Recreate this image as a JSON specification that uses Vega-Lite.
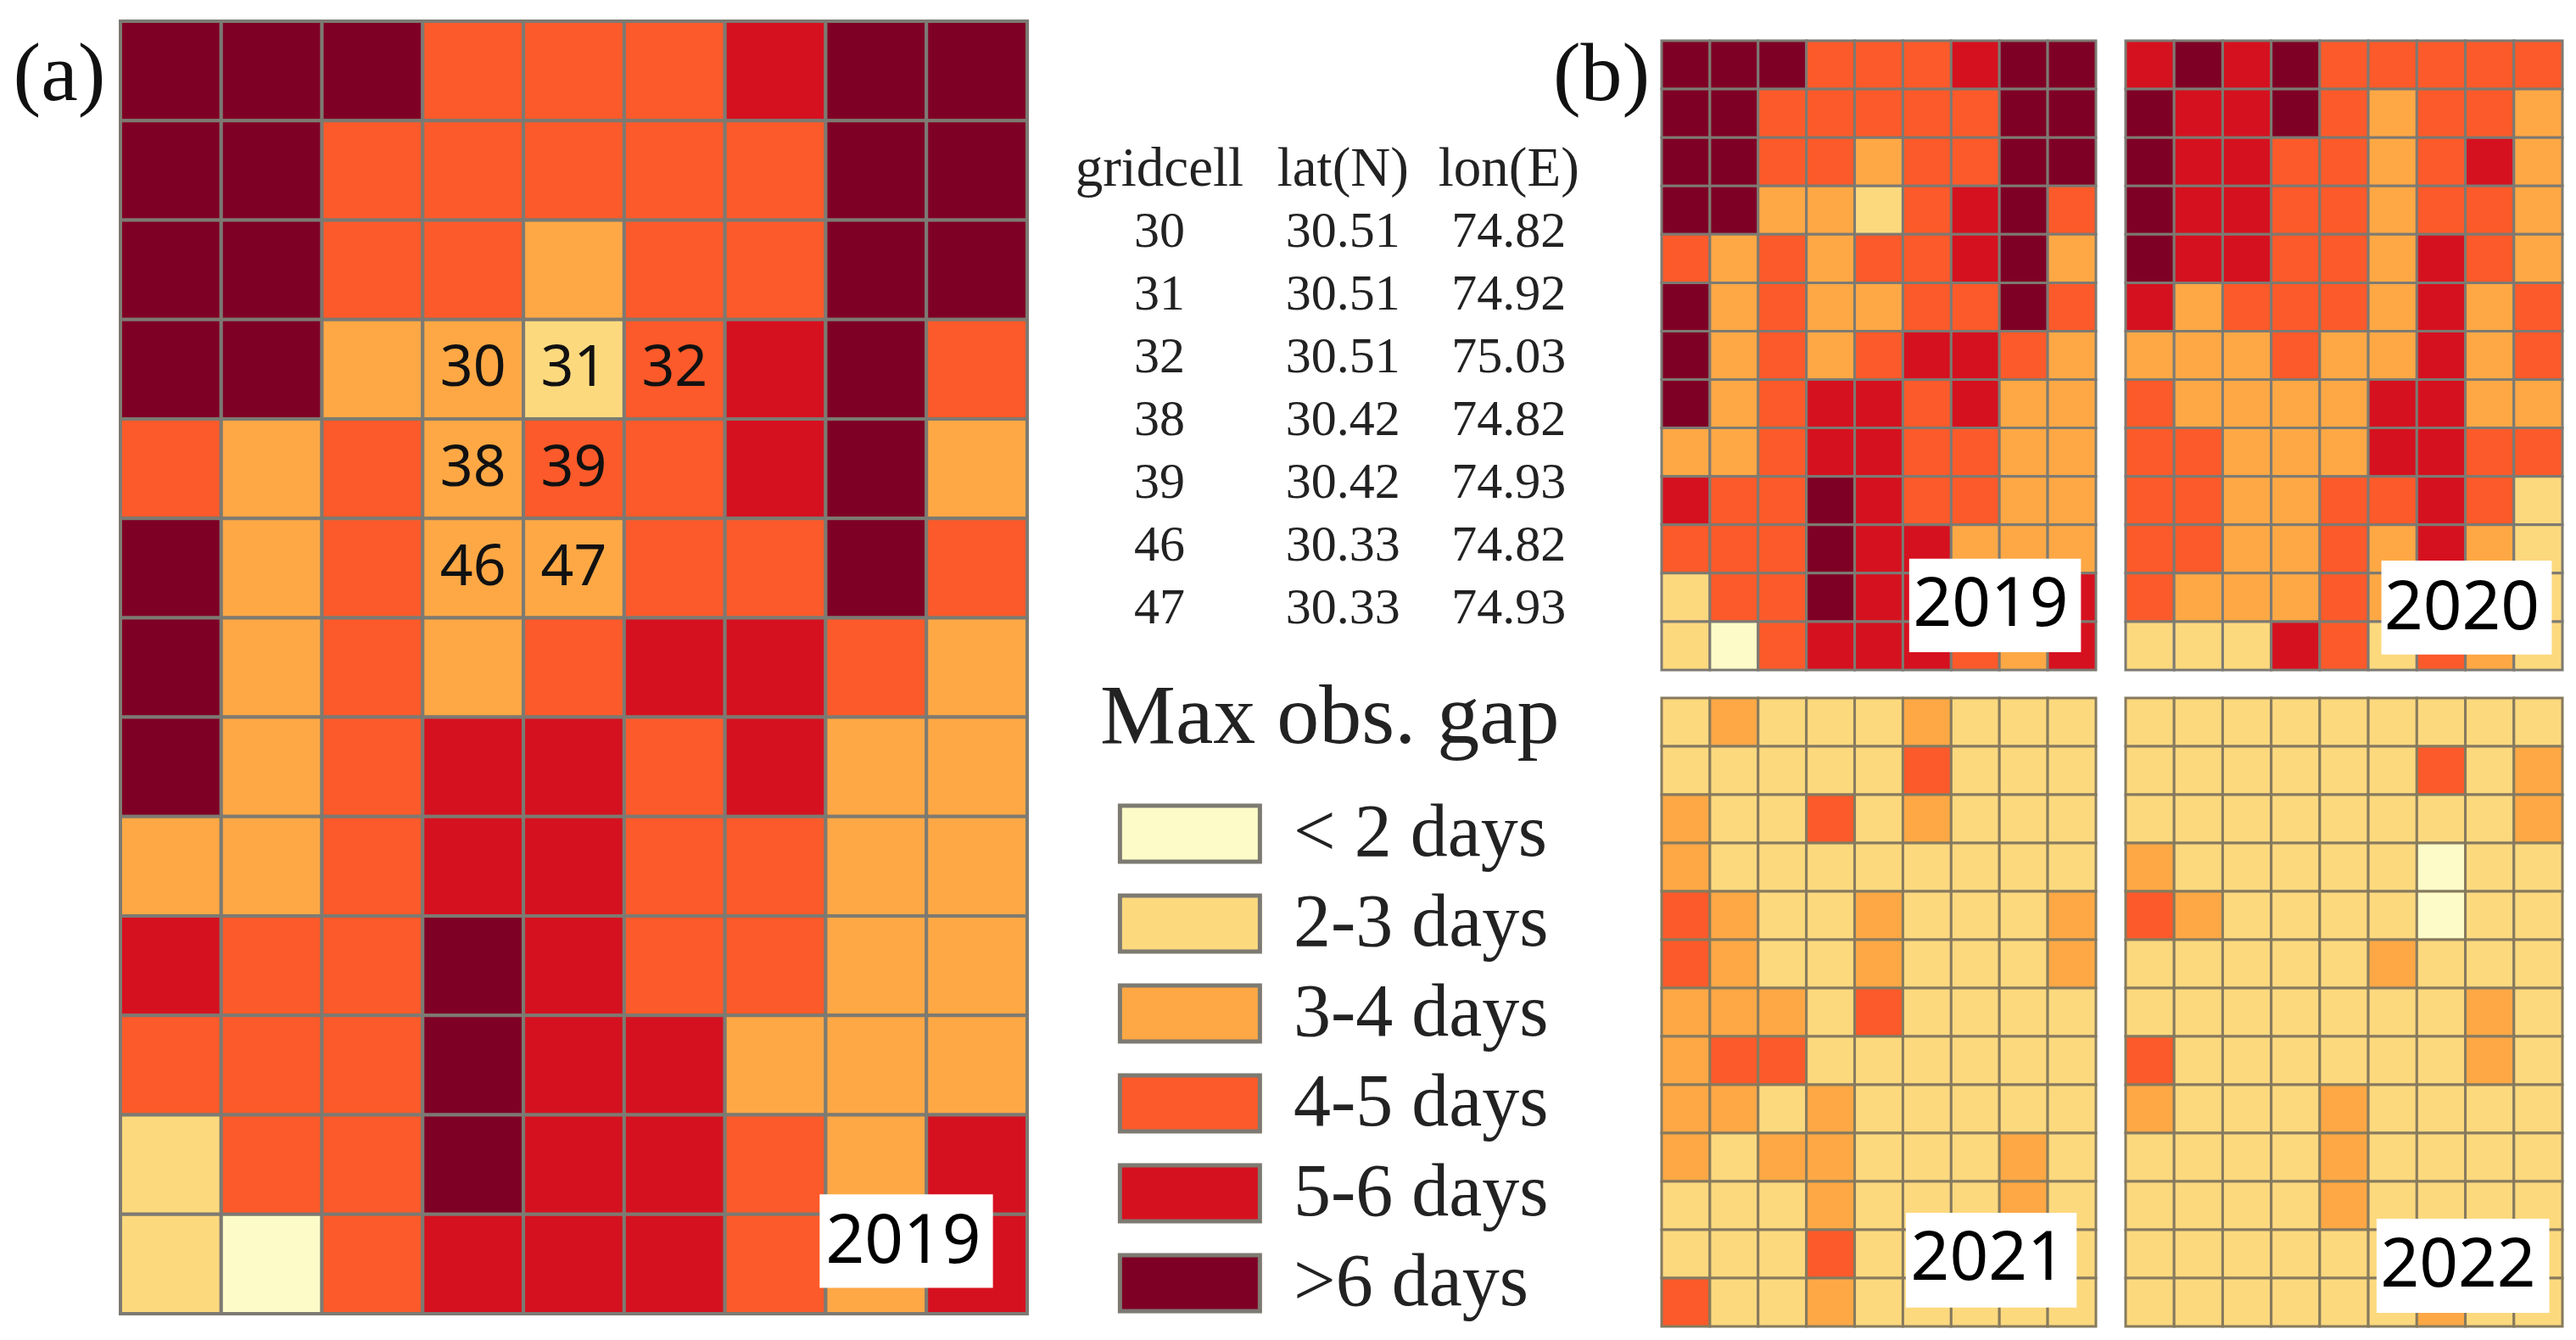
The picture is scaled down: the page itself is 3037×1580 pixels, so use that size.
{"$schema":"https://vega.github.io/schema/vega-lite/v6.json","background":"white","padding":{"left":0,"top":23,"right":10,"bottom":15},"config":{"view":{"stroke":null},"font":"Liberation Serif"},
"datasets":{"cells":[
{"year":2019,"row":0,"col":0,"gap":">6 days"},{"year":2019,"row":0,"col":1,"gap":">6 days"},{"year":2019,"row":0,"col":2,"gap":">6 days"},{"year":2019,"row":0,"col":3,"gap":"4-5 days"},{"year":2019,"row":0,"col":4,"gap":"4-5 days"},{"year":2019,"row":0,"col":5,"gap":"4-5 days"},{"year":2019,"row":0,"col":6,"gap":"5-6 days"},{"year":2019,"row":0,"col":7,"gap":">6 days"},{"year":2019,"row":0,"col":8,"gap":">6 days"},
{"year":2019,"row":1,"col":0,"gap":">6 days"},{"year":2019,"row":1,"col":1,"gap":">6 days"},{"year":2019,"row":1,"col":2,"gap":"4-5 days"},{"year":2019,"row":1,"col":3,"gap":"4-5 days"},{"year":2019,"row":1,"col":4,"gap":"4-5 days"},{"year":2019,"row":1,"col":5,"gap":"4-5 days"},{"year":2019,"row":1,"col":6,"gap":"4-5 days"},{"year":2019,"row":1,"col":7,"gap":">6 days"},{"year":2019,"row":1,"col":8,"gap":">6 days"},
{"year":2019,"row":2,"col":0,"gap":">6 days"},{"year":2019,"row":2,"col":1,"gap":">6 days"},{"year":2019,"row":2,"col":2,"gap":"4-5 days"},{"year":2019,"row":2,"col":3,"gap":"4-5 days"},{"year":2019,"row":2,"col":4,"gap":"3-4 days"},{"year":2019,"row":2,"col":5,"gap":"4-5 days"},{"year":2019,"row":2,"col":6,"gap":"4-5 days"},{"year":2019,"row":2,"col":7,"gap":">6 days"},{"year":2019,"row":2,"col":8,"gap":">6 days"},
{"year":2019,"row":3,"col":0,"gap":">6 days"},{"year":2019,"row":3,"col":1,"gap":">6 days"},{"year":2019,"row":3,"col":2,"gap":"3-4 days"},{"year":2019,"row":3,"col":3,"gap":"3-4 days"},{"year":2019,"row":3,"col":4,"gap":"2-3 days"},{"year":2019,"row":3,"col":5,"gap":"4-5 days"},{"year":2019,"row":3,"col":6,"gap":"5-6 days"},{"year":2019,"row":3,"col":7,"gap":">6 days"},{"year":2019,"row":3,"col":8,"gap":"4-5 days"},
{"year":2019,"row":4,"col":0,"gap":"4-5 days"},{"year":2019,"row":4,"col":1,"gap":"3-4 days"},{"year":2019,"row":4,"col":2,"gap":"4-5 days"},{"year":2019,"row":4,"col":3,"gap":"3-4 days"},{"year":2019,"row":4,"col":4,"gap":"4-5 days"},{"year":2019,"row":4,"col":5,"gap":"4-5 days"},{"year":2019,"row":4,"col":6,"gap":"5-6 days"},{"year":2019,"row":4,"col":7,"gap":">6 days"},{"year":2019,"row":4,"col":8,"gap":"3-4 days"},
{"year":2019,"row":5,"col":0,"gap":">6 days"},{"year":2019,"row":5,"col":1,"gap":"3-4 days"},{"year":2019,"row":5,"col":2,"gap":"4-5 days"},{"year":2019,"row":5,"col":3,"gap":"3-4 days"},{"year":2019,"row":5,"col":4,"gap":"3-4 days"},{"year":2019,"row":5,"col":5,"gap":"4-5 days"},{"year":2019,"row":5,"col":6,"gap":"4-5 days"},{"year":2019,"row":5,"col":7,"gap":">6 days"},{"year":2019,"row":5,"col":8,"gap":"4-5 days"},
{"year":2019,"row":6,"col":0,"gap":">6 days"},{"year":2019,"row":6,"col":1,"gap":"3-4 days"},{"year":2019,"row":6,"col":2,"gap":"4-5 days"},{"year":2019,"row":6,"col":3,"gap":"3-4 days"},{"year":2019,"row":6,"col":4,"gap":"4-5 days"},{"year":2019,"row":6,"col":5,"gap":"5-6 days"},{"year":2019,"row":6,"col":6,"gap":"5-6 days"},{"year":2019,"row":6,"col":7,"gap":"4-5 days"},{"year":2019,"row":6,"col":8,"gap":"3-4 days"},
{"year":2019,"row":7,"col":0,"gap":">6 days"},{"year":2019,"row":7,"col":1,"gap":"3-4 days"},{"year":2019,"row":7,"col":2,"gap":"4-5 days"},{"year":2019,"row":7,"col":3,"gap":"5-6 days"},{"year":2019,"row":7,"col":4,"gap":"5-6 days"},{"year":2019,"row":7,"col":5,"gap":"4-5 days"},{"year":2019,"row":7,"col":6,"gap":"5-6 days"},{"year":2019,"row":7,"col":7,"gap":"3-4 days"},{"year":2019,"row":7,"col":8,"gap":"3-4 days"},
{"year":2019,"row":8,"col":0,"gap":"3-4 days"},{"year":2019,"row":8,"col":1,"gap":"3-4 days"},{"year":2019,"row":8,"col":2,"gap":"4-5 days"},{"year":2019,"row":8,"col":3,"gap":"5-6 days"},{"year":2019,"row":8,"col":4,"gap":"5-6 days"},{"year":2019,"row":8,"col":5,"gap":"4-5 days"},{"year":2019,"row":8,"col":6,"gap":"4-5 days"},{"year":2019,"row":8,"col":7,"gap":"3-4 days"},{"year":2019,"row":8,"col":8,"gap":"3-4 days"},
{"year":2019,"row":9,"col":0,"gap":"5-6 days"},{"year":2019,"row":9,"col":1,"gap":"4-5 days"},{"year":2019,"row":9,"col":2,"gap":"4-5 days"},{"year":2019,"row":9,"col":3,"gap":">6 days"},{"year":2019,"row":9,"col":4,"gap":"5-6 days"},{"year":2019,"row":9,"col":5,"gap":"4-5 days"},{"year":2019,"row":9,"col":6,"gap":"4-5 days"},{"year":2019,"row":9,"col":7,"gap":"3-4 days"},{"year":2019,"row":9,"col":8,"gap":"3-4 days"},
{"year":2019,"row":10,"col":0,"gap":"4-5 days"},{"year":2019,"row":10,"col":1,"gap":"4-5 days"},{"year":2019,"row":10,"col":2,"gap":"4-5 days"},{"year":2019,"row":10,"col":3,"gap":">6 days"},{"year":2019,"row":10,"col":4,"gap":"5-6 days"},{"year":2019,"row":10,"col":5,"gap":"5-6 days"},{"year":2019,"row":10,"col":6,"gap":"3-4 days"},{"year":2019,"row":10,"col":7,"gap":"3-4 days"},{"year":2019,"row":10,"col":8,"gap":"3-4 days"},
{"year":2019,"row":11,"col":0,"gap":"2-3 days"},{"year":2019,"row":11,"col":1,"gap":"4-5 days"},{"year":2019,"row":11,"col":2,"gap":"4-5 days"},{"year":2019,"row":11,"col":3,"gap":">6 days"},{"year":2019,"row":11,"col":4,"gap":"5-6 days"},{"year":2019,"row":11,"col":5,"gap":"5-6 days"},{"year":2019,"row":11,"col":6,"gap":"4-5 days"},{"year":2019,"row":11,"col":7,"gap":"3-4 days"},{"year":2019,"row":11,"col":8,"gap":"5-6 days"},
{"year":2019,"row":12,"col":0,"gap":"2-3 days"},{"year":2019,"row":12,"col":1,"gap":"< 2 days"},{"year":2019,"row":12,"col":2,"gap":"4-5 days"},{"year":2019,"row":12,"col":3,"gap":"5-6 days"},{"year":2019,"row":12,"col":4,"gap":"5-6 days"},{"year":2019,"row":12,"col":5,"gap":"5-6 days"},{"year":2019,"row":12,"col":6,"gap":"4-5 days"},{"year":2019,"row":12,"col":7,"gap":"3-4 days"},{"year":2019,"row":12,"col":8,"gap":"5-6 days"},
{"year":2020,"row":0,"col":0,"gap":"5-6 days"},{"year":2020,"row":0,"col":1,"gap":">6 days"},{"year":2020,"row":0,"col":2,"gap":"5-6 days"},{"year":2020,"row":0,"col":3,"gap":">6 days"},{"year":2020,"row":0,"col":4,"gap":"4-5 days"},{"year":2020,"row":0,"col":5,"gap":"4-5 days"},{"year":2020,"row":0,"col":6,"gap":"4-5 days"},{"year":2020,"row":0,"col":7,"gap":"4-5 days"},{"year":2020,"row":0,"col":8,"gap":"4-5 days"},
{"year":2020,"row":1,"col":0,"gap":">6 days"},{"year":2020,"row":1,"col":1,"gap":"5-6 days"},{"year":2020,"row":1,"col":2,"gap":"5-6 days"},{"year":2020,"row":1,"col":3,"gap":">6 days"},{"year":2020,"row":1,"col":4,"gap":"4-5 days"},{"year":2020,"row":1,"col":5,"gap":"3-4 days"},{"year":2020,"row":1,"col":6,"gap":"4-5 days"},{"year":2020,"row":1,"col":7,"gap":"4-5 days"},{"year":2020,"row":1,"col":8,"gap":"3-4 days"},
{"year":2020,"row":2,"col":0,"gap":">6 days"},{"year":2020,"row":2,"col":1,"gap":"5-6 days"},{"year":2020,"row":2,"col":2,"gap":"5-6 days"},{"year":2020,"row":2,"col":3,"gap":"4-5 days"},{"year":2020,"row":2,"col":4,"gap":"4-5 days"},{"year":2020,"row":2,"col":5,"gap":"3-4 days"},{"year":2020,"row":2,"col":6,"gap":"4-5 days"},{"year":2020,"row":2,"col":7,"gap":"5-6 days"},{"year":2020,"row":2,"col":8,"gap":"3-4 days"},
{"year":2020,"row":3,"col":0,"gap":">6 days"},{"year":2020,"row":3,"col":1,"gap":"5-6 days"},{"year":2020,"row":3,"col":2,"gap":"5-6 days"},{"year":2020,"row":3,"col":3,"gap":"4-5 days"},{"year":2020,"row":3,"col":4,"gap":"4-5 days"},{"year":2020,"row":3,"col":5,"gap":"3-4 days"},{"year":2020,"row":3,"col":6,"gap":"4-5 days"},{"year":2020,"row":3,"col":7,"gap":"4-5 days"},{"year":2020,"row":3,"col":8,"gap":"3-4 days"},
{"year":2020,"row":4,"col":0,"gap":">6 days"},{"year":2020,"row":4,"col":1,"gap":"5-6 days"},{"year":2020,"row":4,"col":2,"gap":"5-6 days"},{"year":2020,"row":4,"col":3,"gap":"4-5 days"},{"year":2020,"row":4,"col":4,"gap":"4-5 days"},{"year":2020,"row":4,"col":5,"gap":"3-4 days"},{"year":2020,"row":4,"col":6,"gap":"5-6 days"},{"year":2020,"row":4,"col":7,"gap":"4-5 days"},{"year":2020,"row":4,"col":8,"gap":"3-4 days"},
{"year":2020,"row":5,"col":0,"gap":"5-6 days"},{"year":2020,"row":5,"col":1,"gap":"3-4 days"},{"year":2020,"row":5,"col":2,"gap":"4-5 days"},{"year":2020,"row":5,"col":3,"gap":"4-5 days"},{"year":2020,"row":5,"col":4,"gap":"4-5 days"},{"year":2020,"row":5,"col":5,"gap":"3-4 days"},{"year":2020,"row":5,"col":6,"gap":"5-6 days"},{"year":2020,"row":5,"col":7,"gap":"3-4 days"},{"year":2020,"row":5,"col":8,"gap":"4-5 days"},
{"year":2020,"row":6,"col":0,"gap":"3-4 days"},{"year":2020,"row":6,"col":1,"gap":"3-4 days"},{"year":2020,"row":6,"col":2,"gap":"3-4 days"},{"year":2020,"row":6,"col":3,"gap":"4-5 days"},{"year":2020,"row":6,"col":4,"gap":"3-4 days"},{"year":2020,"row":6,"col":5,"gap":"3-4 days"},{"year":2020,"row":6,"col":6,"gap":"5-6 days"},{"year":2020,"row":6,"col":7,"gap":"3-4 days"},{"year":2020,"row":6,"col":8,"gap":"4-5 days"},
{"year":2020,"row":7,"col":0,"gap":"4-5 days"},{"year":2020,"row":7,"col":1,"gap":"3-4 days"},{"year":2020,"row":7,"col":2,"gap":"3-4 days"},{"year":2020,"row":7,"col":3,"gap":"3-4 days"},{"year":2020,"row":7,"col":4,"gap":"3-4 days"},{"year":2020,"row":7,"col":5,"gap":"5-6 days"},{"year":2020,"row":7,"col":6,"gap":"5-6 days"},{"year":2020,"row":7,"col":7,"gap":"3-4 days"},{"year":2020,"row":7,"col":8,"gap":"3-4 days"},
{"year":2020,"row":8,"col":0,"gap":"4-5 days"},{"year":2020,"row":8,"col":1,"gap":"4-5 days"},{"year":2020,"row":8,"col":2,"gap":"3-4 days"},{"year":2020,"row":8,"col":3,"gap":"3-4 days"},{"year":2020,"row":8,"col":4,"gap":"3-4 days"},{"year":2020,"row":8,"col":5,"gap":"5-6 days"},{"year":2020,"row":8,"col":6,"gap":"5-6 days"},{"year":2020,"row":8,"col":7,"gap":"4-5 days"},{"year":2020,"row":8,"col":8,"gap":"4-5 days"},
{"year":2020,"row":9,"col":0,"gap":"4-5 days"},{"year":2020,"row":9,"col":1,"gap":"4-5 days"},{"year":2020,"row":9,"col":2,"gap":"3-4 days"},{"year":2020,"row":9,"col":3,"gap":"3-4 days"},{"year":2020,"row":9,"col":4,"gap":"4-5 days"},{"year":2020,"row":9,"col":5,"gap":"4-5 days"},{"year":2020,"row":9,"col":6,"gap":"5-6 days"},{"year":2020,"row":9,"col":7,"gap":"4-5 days"},{"year":2020,"row":9,"col":8,"gap":"2-3 days"},
{"year":2020,"row":10,"col":0,"gap":"4-5 days"},{"year":2020,"row":10,"col":1,"gap":"4-5 days"},{"year":2020,"row":10,"col":2,"gap":"3-4 days"},{"year":2020,"row":10,"col":3,"gap":"3-4 days"},{"year":2020,"row":10,"col":4,"gap":"4-5 days"},{"year":2020,"row":10,"col":5,"gap":"3-4 days"},{"year":2020,"row":10,"col":6,"gap":"5-6 days"},{"year":2020,"row":10,"col":7,"gap":"3-4 days"},{"year":2020,"row":10,"col":8,"gap":"2-3 days"},
{"year":2020,"row":11,"col":0,"gap":"4-5 days"},{"year":2020,"row":11,"col":1,"gap":"3-4 days"},{"year":2020,"row":11,"col":2,"gap":"3-4 days"},{"year":2020,"row":11,"col":3,"gap":"3-4 days"},{"year":2020,"row":11,"col":4,"gap":"4-5 days"},{"year":2020,"row":11,"col":5,"gap":"3-4 days"},{"year":2020,"row":11,"col":6,"gap":"4-5 days"},{"year":2020,"row":11,"col":7,"gap":"3-4 days"},{"year":2020,"row":11,"col":8,"gap":"2-3 days"},
{"year":2020,"row":12,"col":0,"gap":"2-3 days"},{"year":2020,"row":12,"col":1,"gap":"2-3 days"},{"year":2020,"row":12,"col":2,"gap":"2-3 days"},{"year":2020,"row":12,"col":3,"gap":"5-6 days"},{"year":2020,"row":12,"col":4,"gap":"4-5 days"},{"year":2020,"row":12,"col":5,"gap":"2-3 days"},{"year":2020,"row":12,"col":6,"gap":"4-5 days"},{"year":2020,"row":12,"col":7,"gap":"3-4 days"},{"year":2020,"row":12,"col":8,"gap":"2-3 days"},
{"year":2021,"row":0,"col":0,"gap":"2-3 days"},{"year":2021,"row":0,"col":1,"gap":"3-4 days"},{"year":2021,"row":0,"col":2,"gap":"2-3 days"},{"year":2021,"row":0,"col":3,"gap":"2-3 days"},{"year":2021,"row":0,"col":4,"gap":"2-3 days"},{"year":2021,"row":0,"col":5,"gap":"3-4 days"},{"year":2021,"row":0,"col":6,"gap":"2-3 days"},{"year":2021,"row":0,"col":7,"gap":"2-3 days"},{"year":2021,"row":0,"col":8,"gap":"2-3 days"},
{"year":2021,"row":1,"col":0,"gap":"2-3 days"},{"year":2021,"row":1,"col":1,"gap":"2-3 days"},{"year":2021,"row":1,"col":2,"gap":"2-3 days"},{"year":2021,"row":1,"col":3,"gap":"2-3 days"},{"year":2021,"row":1,"col":4,"gap":"2-3 days"},{"year":2021,"row":1,"col":5,"gap":"4-5 days"},{"year":2021,"row":1,"col":6,"gap":"2-3 days"},{"year":2021,"row":1,"col":7,"gap":"2-3 days"},{"year":2021,"row":1,"col":8,"gap":"2-3 days"},
{"year":2021,"row":2,"col":0,"gap":"3-4 days"},{"year":2021,"row":2,"col":1,"gap":"2-3 days"},{"year":2021,"row":2,"col":2,"gap":"2-3 days"},{"year":2021,"row":2,"col":3,"gap":"4-5 days"},{"year":2021,"row":2,"col":4,"gap":"2-3 days"},{"year":2021,"row":2,"col":5,"gap":"3-4 days"},{"year":2021,"row":2,"col":6,"gap":"2-3 days"},{"year":2021,"row":2,"col":7,"gap":"2-3 days"},{"year":2021,"row":2,"col":8,"gap":"2-3 days"},
{"year":2021,"row":3,"col":0,"gap":"3-4 days"},{"year":2021,"row":3,"col":1,"gap":"2-3 days"},{"year":2021,"row":3,"col":2,"gap":"2-3 days"},{"year":2021,"row":3,"col":3,"gap":"2-3 days"},{"year":2021,"row":3,"col":4,"gap":"2-3 days"},{"year":2021,"row":3,"col":5,"gap":"2-3 days"},{"year":2021,"row":3,"col":6,"gap":"2-3 days"},{"year":2021,"row":3,"col":7,"gap":"2-3 days"},{"year":2021,"row":3,"col":8,"gap":"2-3 days"},
{"year":2021,"row":4,"col":0,"gap":"4-5 days"},{"year":2021,"row":4,"col":1,"gap":"3-4 days"},{"year":2021,"row":4,"col":2,"gap":"2-3 days"},{"year":2021,"row":4,"col":3,"gap":"2-3 days"},{"year":2021,"row":4,"col":4,"gap":"3-4 days"},{"year":2021,"row":4,"col":5,"gap":"2-3 days"},{"year":2021,"row":4,"col":6,"gap":"2-3 days"},{"year":2021,"row":4,"col":7,"gap":"2-3 days"},{"year":2021,"row":4,"col":8,"gap":"3-4 days"},
{"year":2021,"row":5,"col":0,"gap":"4-5 days"},{"year":2021,"row":5,"col":1,"gap":"3-4 days"},{"year":2021,"row":5,"col":2,"gap":"2-3 days"},{"year":2021,"row":5,"col":3,"gap":"2-3 days"},{"year":2021,"row":5,"col":4,"gap":"3-4 days"},{"year":2021,"row":5,"col":5,"gap":"2-3 days"},{"year":2021,"row":5,"col":6,"gap":"2-3 days"},{"year":2021,"row":5,"col":7,"gap":"2-3 days"},{"year":2021,"row":5,"col":8,"gap":"3-4 days"},
{"year":2021,"row":6,"col":0,"gap":"3-4 days"},{"year":2021,"row":6,"col":1,"gap":"3-4 days"},{"year":2021,"row":6,"col":2,"gap":"3-4 days"},{"year":2021,"row":6,"col":3,"gap":"2-3 days"},{"year":2021,"row":6,"col":4,"gap":"4-5 days"},{"year":2021,"row":6,"col":5,"gap":"2-3 days"},{"year":2021,"row":6,"col":6,"gap":"2-3 days"},{"year":2021,"row":6,"col":7,"gap":"2-3 days"},{"year":2021,"row":6,"col":8,"gap":"2-3 days"},
{"year":2021,"row":7,"col":0,"gap":"3-4 days"},{"year":2021,"row":7,"col":1,"gap":"4-5 days"},{"year":2021,"row":7,"col":2,"gap":"4-5 days"},{"year":2021,"row":7,"col":3,"gap":"2-3 days"},{"year":2021,"row":7,"col":4,"gap":"2-3 days"},{"year":2021,"row":7,"col":5,"gap":"2-3 days"},{"year":2021,"row":7,"col":6,"gap":"2-3 days"},{"year":2021,"row":7,"col":7,"gap":"2-3 days"},{"year":2021,"row":7,"col":8,"gap":"2-3 days"},
{"year":2021,"row":8,"col":0,"gap":"3-4 days"},{"year":2021,"row":8,"col":1,"gap":"3-4 days"},{"year":2021,"row":8,"col":2,"gap":"2-3 days"},{"year":2021,"row":8,"col":3,"gap":"3-4 days"},{"year":2021,"row":8,"col":4,"gap":"2-3 days"},{"year":2021,"row":8,"col":5,"gap":"2-3 days"},{"year":2021,"row":8,"col":6,"gap":"2-3 days"},{"year":2021,"row":8,"col":7,"gap":"2-3 days"},{"year":2021,"row":8,"col":8,"gap":"2-3 days"},
{"year":2021,"row":9,"col":0,"gap":"3-4 days"},{"year":2021,"row":9,"col":1,"gap":"2-3 days"},{"year":2021,"row":9,"col":2,"gap":"3-4 days"},{"year":2021,"row":9,"col":3,"gap":"3-4 days"},{"year":2021,"row":9,"col":4,"gap":"2-3 days"},{"year":2021,"row":9,"col":5,"gap":"2-3 days"},{"year":2021,"row":9,"col":6,"gap":"2-3 days"},{"year":2021,"row":9,"col":7,"gap":"3-4 days"},{"year":2021,"row":9,"col":8,"gap":"2-3 days"},
{"year":2021,"row":10,"col":0,"gap":"2-3 days"},{"year":2021,"row":10,"col":1,"gap":"2-3 days"},{"year":2021,"row":10,"col":2,"gap":"2-3 days"},{"year":2021,"row":10,"col":3,"gap":"3-4 days"},{"year":2021,"row":10,"col":4,"gap":"2-3 days"},{"year":2021,"row":10,"col":5,"gap":"2-3 days"},{"year":2021,"row":10,"col":6,"gap":"2-3 days"},{"year":2021,"row":10,"col":7,"gap":"3-4 days"},{"year":2021,"row":10,"col":8,"gap":"2-3 days"},
{"year":2021,"row":11,"col":0,"gap":"2-3 days"},{"year":2021,"row":11,"col":1,"gap":"2-3 days"},{"year":2021,"row":11,"col":2,"gap":"2-3 days"},{"year":2021,"row":11,"col":3,"gap":"4-5 days"},{"year":2021,"row":11,"col":4,"gap":"2-3 days"},{"year":2021,"row":11,"col":5,"gap":"2-3 days"},{"year":2021,"row":11,"col":6,"gap":"2-3 days"},{"year":2021,"row":11,"col":7,"gap":"2-3 days"},{"year":2021,"row":11,"col":8,"gap":"2-3 days"},
{"year":2021,"row":12,"col":0,"gap":"4-5 days"},{"year":2021,"row":12,"col":1,"gap":"2-3 days"},{"year":2021,"row":12,"col":2,"gap":"2-3 days"},{"year":2021,"row":12,"col":3,"gap":"3-4 days"},{"year":2021,"row":12,"col":4,"gap":"2-3 days"},{"year":2021,"row":12,"col":5,"gap":"2-3 days"},{"year":2021,"row":12,"col":6,"gap":"2-3 days"},{"year":2021,"row":12,"col":7,"gap":"2-3 days"},{"year":2021,"row":12,"col":8,"gap":"2-3 days"},
{"year":2022,"row":0,"col":0,"gap":"2-3 days"},{"year":2022,"row":0,"col":1,"gap":"2-3 days"},{"year":2022,"row":0,"col":2,"gap":"2-3 days"},{"year":2022,"row":0,"col":3,"gap":"2-3 days"},{"year":2022,"row":0,"col":4,"gap":"2-3 days"},{"year":2022,"row":0,"col":5,"gap":"2-3 days"},{"year":2022,"row":0,"col":6,"gap":"2-3 days"},{"year":2022,"row":0,"col":7,"gap":"2-3 days"},{"year":2022,"row":0,"col":8,"gap":"2-3 days"},
{"year":2022,"row":1,"col":0,"gap":"2-3 days"},{"year":2022,"row":1,"col":1,"gap":"2-3 days"},{"year":2022,"row":1,"col":2,"gap":"2-3 days"},{"year":2022,"row":1,"col":3,"gap":"2-3 days"},{"year":2022,"row":1,"col":4,"gap":"2-3 days"},{"year":2022,"row":1,"col":5,"gap":"2-3 days"},{"year":2022,"row":1,"col":6,"gap":"4-5 days"},{"year":2022,"row":1,"col":7,"gap":"2-3 days"},{"year":2022,"row":1,"col":8,"gap":"3-4 days"},
{"year":2022,"row":2,"col":0,"gap":"2-3 days"},{"year":2022,"row":2,"col":1,"gap":"2-3 days"},{"year":2022,"row":2,"col":2,"gap":"2-3 days"},{"year":2022,"row":2,"col":3,"gap":"2-3 days"},{"year":2022,"row":2,"col":4,"gap":"2-3 days"},{"year":2022,"row":2,"col":5,"gap":"2-3 days"},{"year":2022,"row":2,"col":6,"gap":"2-3 days"},{"year":2022,"row":2,"col":7,"gap":"2-3 days"},{"year":2022,"row":2,"col":8,"gap":"3-4 days"},
{"year":2022,"row":3,"col":0,"gap":"3-4 days"},{"year":2022,"row":3,"col":1,"gap":"2-3 days"},{"year":2022,"row":3,"col":2,"gap":"2-3 days"},{"year":2022,"row":3,"col":3,"gap":"2-3 days"},{"year":2022,"row":3,"col":4,"gap":"2-3 days"},{"year":2022,"row":3,"col":5,"gap":"2-3 days"},{"year":2022,"row":3,"col":6,"gap":"< 2 days"},{"year":2022,"row":3,"col":7,"gap":"2-3 days"},{"year":2022,"row":3,"col":8,"gap":"2-3 days"},
{"year":2022,"row":4,"col":0,"gap":"4-5 days"},{"year":2022,"row":4,"col":1,"gap":"3-4 days"},{"year":2022,"row":4,"col":2,"gap":"2-3 days"},{"year":2022,"row":4,"col":3,"gap":"2-3 days"},{"year":2022,"row":4,"col":4,"gap":"2-3 days"},{"year":2022,"row":4,"col":5,"gap":"2-3 days"},{"year":2022,"row":4,"col":6,"gap":"< 2 days"},{"year":2022,"row":4,"col":7,"gap":"2-3 days"},{"year":2022,"row":4,"col":8,"gap":"2-3 days"},
{"year":2022,"row":5,"col":0,"gap":"2-3 days"},{"year":2022,"row":5,"col":1,"gap":"2-3 days"},{"year":2022,"row":5,"col":2,"gap":"2-3 days"},{"year":2022,"row":5,"col":3,"gap":"2-3 days"},{"year":2022,"row":5,"col":4,"gap":"2-3 days"},{"year":2022,"row":5,"col":5,"gap":"3-4 days"},{"year":2022,"row":5,"col":6,"gap":"2-3 days"},{"year":2022,"row":5,"col":7,"gap":"2-3 days"},{"year":2022,"row":5,"col":8,"gap":"2-3 days"},
{"year":2022,"row":6,"col":0,"gap":"2-3 days"},{"year":2022,"row":6,"col":1,"gap":"2-3 days"},{"year":2022,"row":6,"col":2,"gap":"2-3 days"},{"year":2022,"row":6,"col":3,"gap":"2-3 days"},{"year":2022,"row":6,"col":4,"gap":"2-3 days"},{"year":2022,"row":6,"col":5,"gap":"2-3 days"},{"year":2022,"row":6,"col":6,"gap":"2-3 days"},{"year":2022,"row":6,"col":7,"gap":"3-4 days"},{"year":2022,"row":6,"col":8,"gap":"2-3 days"},
{"year":2022,"row":7,"col":0,"gap":"4-5 days"},{"year":2022,"row":7,"col":1,"gap":"2-3 days"},{"year":2022,"row":7,"col":2,"gap":"2-3 days"},{"year":2022,"row":7,"col":3,"gap":"2-3 days"},{"year":2022,"row":7,"col":4,"gap":"2-3 days"},{"year":2022,"row":7,"col":5,"gap":"2-3 days"},{"year":2022,"row":7,"col":6,"gap":"2-3 days"},{"year":2022,"row":7,"col":7,"gap":"3-4 days"},{"year":2022,"row":7,"col":8,"gap":"2-3 days"},
{"year":2022,"row":8,"col":0,"gap":"3-4 days"},{"year":2022,"row":8,"col":1,"gap":"2-3 days"},{"year":2022,"row":8,"col":2,"gap":"2-3 days"},{"year":2022,"row":8,"col":3,"gap":"2-3 days"},{"year":2022,"row":8,"col":4,"gap":"3-4 days"},{"year":2022,"row":8,"col":5,"gap":"2-3 days"},{"year":2022,"row":8,"col":6,"gap":"2-3 days"},{"year":2022,"row":8,"col":7,"gap":"2-3 days"},{"year":2022,"row":8,"col":8,"gap":"2-3 days"},
{"year":2022,"row":9,"col":0,"gap":"2-3 days"},{"year":2022,"row":9,"col":1,"gap":"2-3 days"},{"year":2022,"row":9,"col":2,"gap":"2-3 days"},{"year":2022,"row":9,"col":3,"gap":"2-3 days"},{"year":2022,"row":9,"col":4,"gap":"3-4 days"},{"year":2022,"row":9,"col":5,"gap":"2-3 days"},{"year":2022,"row":9,"col":6,"gap":"2-3 days"},{"year":2022,"row":9,"col":7,"gap":"2-3 days"},{"year":2022,"row":9,"col":8,"gap":"2-3 days"},
{"year":2022,"row":10,"col":0,"gap":"2-3 days"},{"year":2022,"row":10,"col":1,"gap":"2-3 days"},{"year":2022,"row":10,"col":2,"gap":"2-3 days"},{"year":2022,"row":10,"col":3,"gap":"2-3 days"},{"year":2022,"row":10,"col":4,"gap":"3-4 days"},{"year":2022,"row":10,"col":5,"gap":"2-3 days"},{"year":2022,"row":10,"col":6,"gap":"2-3 days"},{"year":2022,"row":10,"col":7,"gap":"2-3 days"},{"year":2022,"row":10,"col":8,"gap":"2-3 days"},
{"year":2022,"row":11,"col":0,"gap":"2-3 days"},{"year":2022,"row":11,"col":1,"gap":"2-3 days"},{"year":2022,"row":11,"col":2,"gap":"2-3 days"},{"year":2022,"row":11,"col":3,"gap":"2-3 days"},{"year":2022,"row":11,"col":4,"gap":"2-3 days"},{"year":2022,"row":11,"col":5,"gap":"2-3 days"},{"year":2022,"row":11,"col":6,"gap":"2-3 days"},{"year":2022,"row":11,"col":7,"gap":"2-3 days"},{"year":2022,"row":11,"col":8,"gap":"2-3 days"},
{"year":2022,"row":12,"col":0,"gap":"2-3 days"},{"year":2022,"row":12,"col":1,"gap":"2-3 days"},{"year":2022,"row":12,"col":2,"gap":"2-3 days"},{"year":2022,"row":12,"col":3,"gap":"2-3 days"},{"year":2022,"row":12,"col":4,"gap":"2-3 days"},{"year":2022,"row":12,"col":5,"gap":"2-3 days"},{"year":2022,"row":12,"col":6,"gap":"3-4 days"},{"year":2022,"row":12,"col":7,"gap":"2-3 days"},{"year":2022,"row":12,"col":8,"gap":"2-3 days"}
],
"table":[
{"row":"header","column":"gridcell","value":"gridcell"},{"row":"header","column":"lat","value":"lat(N)"},{"row":"header","column":"lon","value":"lon(E)"},
{"row":"30","column":"gridcell","value":"30"},{"row":"30","column":"lat","value":"30.51"},{"row":"30","column":"lon","value":"74.82"},
{"row":"31","column":"gridcell","value":"31"},{"row":"31","column":"lat","value":"30.51"},{"row":"31","column":"lon","value":"74.92"},
{"row":"32","column":"gridcell","value":"32"},{"row":"32","column":"lat","value":"30.51"},{"row":"32","column":"lon","value":"75.03"},
{"row":"38","column":"gridcell","value":"38"},{"row":"38","column":"lat","value":"30.42"},{"row":"38","column":"lon","value":"74.82"},
{"row":"39","column":"gridcell","value":"39"},{"row":"39","column":"lat","value":"30.42"},{"row":"39","column":"lon","value":"74.93"},
{"row":"46","column":"gridcell","value":"46"},{"row":"46","column":"lat","value":"30.33"},{"row":"46","column":"lon","value":"74.82"},
{"row":"47","column":"gridcell","value":"47"},{"row":"47","column":"lat","value":"30.33"},{"row":"47","column":"lon","value":"74.93"}
]},
"hconcat":[
{"width":140,"height":200,"data":{"values":[{"label":"(a)"}]},"mark":{"type":"text","font":"Liberation Serif","fontSize":98,"baseline":"middle","align":"center","color":"#111111"},"encoding":{"x":{"datum":0.5,"type":"quantitative","scale":{"domain":[0,1]},"axis":null},"y":{"datum":0.32,"type":"quantitative","scale":{"domain":[0,1],"reverse":true},"axis":null},"text":{"field":"label"}}},
{"width":1069,"height":1524,"resolve":{"scale":{"x":"independent","y":"independent"}},"layer":[
{"data":{"name":"cells"},"transform":[{"filter":"datum.year===2019"}],"mark":{"type":"rect","stroke":"#7d7a72","strokeWidth":4},"encoding":{"x":{"field":"col","type":"ordinal","scale":{"type":"band","paddingInner":0,"paddingOuter":0},"axis":null},"y":{"field":"row","type":"ordinal","scale":{"type":"band","paddingInner":0,"paddingOuter":0},"axis":null},"color":{"field":"gap","type":"nominal","scale":{"domain":["< 2 days","2-3 days","3-4 days","4-5 days","5-6 days",">6 days"],"range":["#fdfcc8","#fdd97e","#fda845","#fc5a2a","#d6111f","#7f0025"]},"legend":{"orient":"none","legendX":1297,"legendY":772,"title":"Max obs. gap","titleFont":"Liberation Serif","titleFontSize":100,"titleFontWeight":"normal","titleColor":"#222222","titlePadding":42,"titleLimit":900,"labelFont":"Liberation Serif","labelFontSize":88,"labelColor":"#222222","labelLimit":900,"labelOffset":140,"symbolType":"M-0.5,-0.8H3.5V0.8H-0.5Z","symbolSize":6806,"symbolStrokeColor":"#7d7a72","symbolStrokeWidth":5,"symbolOpacity":1,"rowPadding":18}}}},
{"data":{"values":[{"label":"30","row":3,"col":3},{"label":"31","row":3,"col":4},{"label":"32","row":3,"col":5},{"label":"38","row":4,"col":3},{"label":"39","row":4,"col":4},{"label":"46","row":5,"col":3},{"label":"47","row":5,"col":4}]},"mark":{"type":"text","font":"Noto Sans","fontSize":68,"baseline":"middle","align":"center","color":"#111111"},"encoding":{"x":{"field":"col","type":"ordinal","scale":{"type":"band","domain":[0,1,2,3,4,5,6,7,8],"paddingInner":0,"paddingOuter":0},"axis":null},"y":{"field":"row","type":"ordinal","scale":{"type":"band","domain":[0,1,2,3,4,5,6,7,8,9,10,11,12],"paddingInner":0,"paddingOuter":0},"axis":null},"text":{"field":"label"}}},
{"data":{"values":[{"label":"2019"}]},"mark":{"type":"rect","fill":"white"},"encoding":{"x":{"datum":6.94,"type":"quantitative","scale":{"domain":[0,9]},"axis":null},"x2":{"datum":8.66},"y":{"datum":11.8,"type":"quantitative","scale":{"domain":[0,13],"reverse":true},"axis":null},"y2":{"datum":12.74}}},
{"data":{"values":[{"label":"2019"}]},"mark":{"type":"text","font":"Noto Sans","fontSize":80,"baseline":"middle","align":"center","color":"black"},"encoding":{"x":{"datum":7.77,"type":"quantitative","scale":{"domain":[0,9]},"axis":null},"y":{"datum":12.28,"type":"quantitative","scale":{"domain":[0,13],"reverse":true},"axis":null},"text":{"field":"label"}}}
]},
{"spacing":0,"bounds":"flush","vconcat":[
{"width":743.5,"height":137,"data":{"values":[{"label":"(b)"}]},"mark":{"type":"text","font":"Liberation Serif","fontSize":98,"baseline":"middle","align":"center","color":"#111111"},"encoding":{"x":{"datum":0.908,"type":"quantitative","scale":{"domain":[0,1]},"axis":null},"y":{"datum":0.467,"type":"quantitative","scale":{"domain":[0,1],"reverse":true},"axis":null},"text":{"field":"label"}}},
{"width":743.5,"height":592,"data":{"name":"table"},"encoding":{"y":{"field":"row","type":"ordinal","scale":{"type":"band","domain":["header","30","31","32","38","39","46","47"],"paddingInner":0,"paddingOuter":0},"axis":null},"size":{"condition":{"test":"datum.row==='header'","value":65},"value":60},"text":{"field":"value"}},"layer":[
{"transform":[{"filter":"datum.column==='gridcell'"}],"mark":{"type":"text","font":"Liberation Serif","baseline":"middle","align":"center","color":"#222222"},"encoding":{"x":{"datum":0.207,"type":"quantitative","scale":{"domain":[0,1]},"axis":null}}},
{"transform":[{"filter":"datum.column==='lat'"}],"mark":{"type":"text","font":"Liberation Serif","baseline":"middle","align":"center","color":"#222222"},"encoding":{"x":{"datum":0.498,"type":"quantitative","scale":{"domain":[0,1]},"axis":null}}},
{"transform":[{"filter":"datum.column==='lon'"}],"mark":{"type":"text","font":"Liberation Serif","baseline":"middle","align":"center","color":"#222222"},"encoding":{"x":{"datum":0.761,"type":"quantitative","scale":{"domain":[0,1]},"axis":null}}}
]}
]},
{"spacing":0,"vconcat":[
{"width":10,"height":20.5,"data":{"values":[{"label":""}]},"mark":{"type":"text"},"encoding":{"text":{"field":"label"}}},
{"spacing":29,"vconcat":[
{"spacing":35,"bounds":"flush","hconcat":[
{"width":512,"height":742,"resolve":{"scale":{"x":"independent","y":"independent"}},"layer":[
{"data":{"name":"cells"},"transform":[{"filter":"datum.year===2019"}],"mark":{"type":"rect","stroke":"#7d7a72","strokeWidth":3},"encoding":{"x":{"field":"col","type":"ordinal","scale":{"type":"band","paddingInner":0,"paddingOuter":0},"axis":null},"y":{"field":"row","type":"ordinal","scale":{"type":"band","paddingInner":0,"paddingOuter":0},"axis":null},"color":{"field":"gap","type":"nominal","scale":{"domain":["< 2 days","2-3 days","3-4 days","4-5 days","5-6 days",">6 days"],"range":["#fdfcc8","#fdd97e","#fda845","#fc5a2a","#d6111f","#7f0025"]}}}},
{"data":{"values":[{"label":"2019"}]},"mark":{"type":"rect","fill":"white"},"encoding":{"x":{"datum":5.13,"type":"quantitative","scale":{"domain":[0,9]},"axis":null},"x2":{"datum":8.69},"y":{"datum":10.7,"type":"quantitative","scale":{"domain":[0,13],"reverse":true},"axis":null},"y2":{"datum":12.63}}},
{"data":{"values":[{"label":"2019"}]},"mark":{"type":"text","font":"Noto Sans","fontSize":80,"baseline":"middle","align":"center","color":"black"},"encoding":{"x":{"datum":6.82,"type":"quantitative","scale":{"domain":[0,9]},"axis":null},"y":{"datum":11.67,"type":"quantitative","scale":{"domain":[0,13],"reverse":true},"axis":null},"text":{"field":"label"}}}
]},
{"width":515,"height":742,"resolve":{"scale":{"x":"independent","y":"independent"}},"layer":[
{"data":{"name":"cells"},"transform":[{"filter":"datum.year===2020"}],"mark":{"type":"rect","stroke":"#7d7a72","strokeWidth":3},"encoding":{"x":{"field":"col","type":"ordinal","scale":{"type":"band","paddingInner":0,"paddingOuter":0},"axis":null},"y":{"field":"row","type":"ordinal","scale":{"type":"band","paddingInner":0,"paddingOuter":0},"axis":null},"color":{"field":"gap","type":"nominal","scale":{"domain":["< 2 days","2-3 days","3-4 days","4-5 days","5-6 days",">6 days"],"range":["#fdfcc8","#fdd97e","#fda845","#fc5a2a","#d6111f","#7f0025"]}}}},
{"data":{"values":[{"label":"2020"}]},"mark":{"type":"rect","fill":"white"},"encoding":{"x":{"datum":5.27,"type":"quantitative","scale":{"domain":[0,9]},"axis":null},"x2":{"datum":8.78},"y":{"datum":10.74,"type":"quantitative","scale":{"domain":[0,13],"reverse":true},"axis":null},"y2":{"datum":12.68}}},
{"data":{"values":[{"label":"2020"}]},"mark":{"type":"text","font":"Noto Sans","fontSize":80,"baseline":"middle","align":"center","color":"black"},"encoding":{"x":{"datum":6.93,"type":"quantitative","scale":{"domain":[0,9]},"axis":null},"y":{"datum":11.74,"type":"quantitative","scale":{"domain":[0,13],"reverse":true},"axis":null},"text":{"field":"label"}}}
]}
]},
{"spacing":35,"bounds":"flush","hconcat":[
{"width":512,"height":741,"resolve":{"scale":{"x":"independent","y":"independent"}},"layer":[
{"data":{"name":"cells"},"transform":[{"filter":"datum.year===2021"}],"mark":{"type":"rect","stroke":"#867a5e","strokeWidth":3},"encoding":{"x":{"field":"col","type":"ordinal","scale":{"type":"band","paddingInner":0,"paddingOuter":0},"axis":null},"y":{"field":"row","type":"ordinal","scale":{"type":"band","paddingInner":0,"paddingOuter":0},"axis":null},"color":{"field":"gap","type":"nominal","scale":{"domain":["< 2 days","2-3 days","3-4 days","4-5 days","5-6 days",">6 days"],"range":["#fdfcc8","#fdd97e","#fda845","#fc5a2a","#d6111f","#7f0025"]}}}},
{"data":{"values":[{"label":"2021"}]},"mark":{"type":"rect","fill":"white"},"encoding":{"x":{"datum":5.06,"type":"quantitative","scale":{"domain":[0,9]},"axis":null},"x2":{"datum":8.6},"y":{"datum":10.65,"type":"quantitative","scale":{"domain":[0,13],"reverse":true},"axis":null},"y2":{"datum":12.61}}},
{"data":{"values":[{"label":"2021"}]},"mark":{"type":"text","font":"Noto Sans","fontSize":80,"baseline":"middle","align":"center","color":"black"},"encoding":{"x":{"datum":6.77,"type":"quantitative","scale":{"domain":[0,9]},"axis":null},"y":{"datum":11.62,"type":"quantitative","scale":{"domain":[0,13],"reverse":true},"axis":null},"text":{"field":"label"}}}
]},
{"width":515,"height":741,"resolve":{"scale":{"x":"independent","y":"independent"}},"layer":[
{"data":{"name":"cells"},"transform":[{"filter":"datum.year===2022"}],"mark":{"type":"rect","stroke":"#867a5e","strokeWidth":3},"encoding":{"x":{"field":"col","type":"ordinal","scale":{"type":"band","paddingInner":0,"paddingOuter":0},"axis":null},"y":{"field":"row","type":"ordinal","scale":{"type":"band","paddingInner":0,"paddingOuter":0},"axis":null},"color":{"field":"gap","type":"nominal","scale":{"domain":["< 2 days","2-3 days","3-4 days","4-5 days","5-6 days",">6 days"],"range":["#fdfcc8","#fdd97e","#fda845","#fc5a2a","#d6111f","#7f0025"]}}}},
{"data":{"values":[{"label":"2022"}]},"mark":{"type":"rect","fill":"white"},"encoding":{"x":{"datum":5.17,"type":"quantitative","scale":{"domain":[0,9]},"axis":null},"x2":{"datum":8.73},"y":{"datum":10.77,"type":"quantitative","scale":{"domain":[0,13],"reverse":true},"axis":null},"y2":{"datum":12.72}}},
{"data":{"values":[{"label":"2022"}]},"mark":{"type":"text","font":"Noto Sans","fontSize":80,"baseline":"middle","align":"center","color":"black"},"encoding":{"x":{"datum":6.85,"type":"quantitative","scale":{"domain":[0,9]},"axis":null},"y":{"datum":11.75,"type":"quantitative","scale":{"domain":[0,13],"reverse":true},"axis":null},"text":{"field":"label"}}}
]}
]}
]}
]}
],"spacing":0}
